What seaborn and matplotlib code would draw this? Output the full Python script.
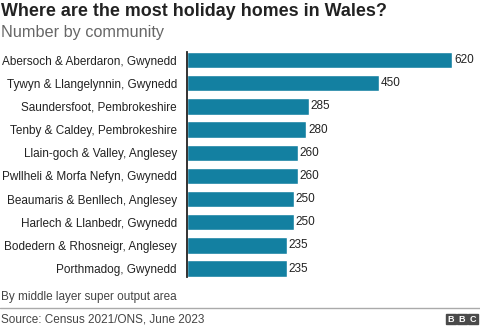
import matplotlib
matplotlib.use("Agg")
import matplotlib.pyplot as plt
import seaborn as sns
import pandas as pd
from matplotlib.patches import Rectangle
from matplotlib.lines import Line2D

communities = [
    "Abersoch & Aberdaron, Gwynedd",
    "Tywyn & Llangelynnin, Gwynedd",
    "Saundersfoot, Pembrokeshire",
    "Tenby & Caldey, Pembrokeshire",
    "Llain-goch & Valley, Anglesey",
    "Pwllheli & Morfa Nefyn, Gwynedd",
    "Beaumaris & Benllech, Anglesey",
    "Harlech & Llanbedr, Gwynedd",
    "Bodedern & Rhosneigr, Anglesey",
    "Porthmadog, Gwynedd",
]
holiday_homes = [620, 450, 285, 280, 260, 260, 250, 250, 235, 235]

title = "Where are the most holiday homes in Wales?"
subtitle = "Number by community"
note = "By middle layer super output area"
source = "Source: Census 2021/ONS, June 2023"

sns.set_theme(style="white")
plt.rcParams["font.family"] = ["Liberation Sans", "DejaVu Sans"]

df = pd.DataFrame({"community": communities, "homes": holiday_homes})

W, H = 480, 329
fig = plt.figure(figsize=(W / 100, H / 100), dpi=100)
fig.patch.set_facecolor("white")

def fx(px):
    return px / W

def fy(py):
    return 1 - py / H

ax_left, ax_right, ax_top, ax_bottom = 186.5, 470, 52, 276.7
ax = fig.add_axes([fx(ax_left), fy(ax_bottom), fx(ax_right - ax_left), (ax_bottom - ax_top) / H])

bar_h = 0.7
sns.barplot(data=df, x="homes", y="community", orient="h", color="#1380A1",
            saturation=1, width=bar_h, ax=ax)

xmax = (ax_right - ax_left) / 0.4285
ax.set_xlim(0, xmax)
ax.set_ylim(len(communities) - 1 + bar_h / 2, -bar_h / 2)

lab_fs = 8.5
for i, v in enumerate(holiday_homes):
    ax.text(v + 4, i, f"{v}", va="center", ha="left", fontsize=lab_fs, color="#222222")

ax.set_xlabel("")
ax.set_ylabel("")
ax.set_xticks([])
ax.tick_params(axis="y", length=0, pad=7, labelsize=lab_fs, labelcolor="#222222")
for s in ["top", "right", "bottom"]:
    ax.spines[s].set_visible(False)
ax.spines["left"].set_color("#222222")
ax.spines["left"].set_linewidth(1.3)
ax.set_facecolor("white")

fig.text(fx(1), fy(11), title, fontsize=12.9, fontweight="bold", color="#222222", va="center", ha="left")
fig.text(fx(1), fy(32), subtitle, fontsize=11.7, color="#666666", va="center", ha="left")
fig.text(fx(1), fy(297), note, fontsize=8.5, color="#444444", va="center", ha="left")
fig.text(fx(1), fy(319), source, fontsize=8.5, color="#444444", va="center", ha="left")

fig.add_artist(Line2D([0, 1], [fy(308), fy(308)], color="#aaaaaa", lw=1, transform=fig.transFigure))

# BBC logo
for k, letter in enumerate("BBC"):
    x0 = 446 + k * 11
    fig.add_artist(Rectangle((fx(x0), fy(324)), fx(10), 10 / H, color="#4a4a4a", transform=fig.transFigure))
    fig.text(fx(x0 + 5), fy(319), letter, fontsize=6.5, fontweight="bold", color="white", ha="center", va="center")

fig.savefig("out.png", dpi=100, facecolor="white")
